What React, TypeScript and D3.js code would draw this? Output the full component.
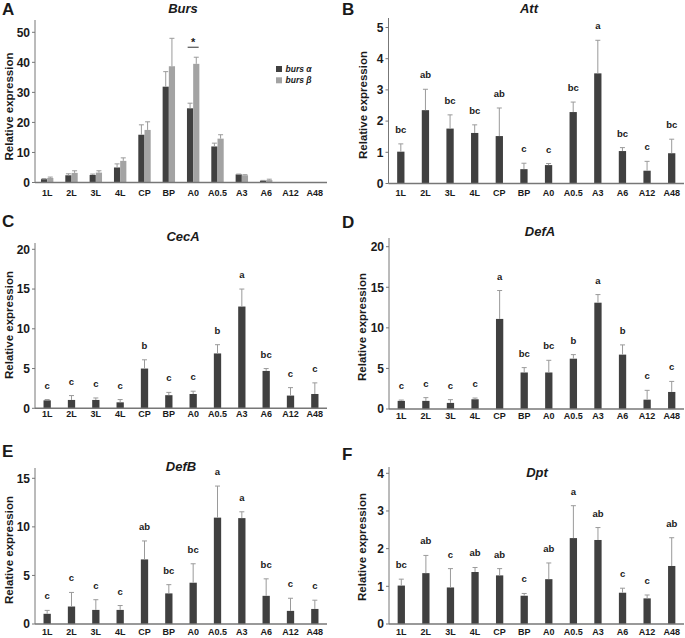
import React from 'react';
import * as d3 from 'd3';

const categories = ['1L', '2L', '3L', '4L', 'CP', 'BP', 'A0', 'A0.5', 'A3', 'A6', 'A12', 'A48'];

// Panel A – Burs
const bursAlphaMean = [1.1, 2.4, 2.5, 5.0, 15.9, 31.9, 24.7, 12.0, 2.7, 0.6, 0, 0];
const bursAlphaSd = [0.2, 0.5, 0.3, 1.2, 3.3, 5.0, 1.7, 1.1, 0.1, 0.1, 0, 0];
const bursBetaMean = [1.5, 3.2, 3.3, 7.2, 17.5, 38.7, 39.5, 14.6, 2.4, 0.8, 0, 0];
const bursBetaSd = [0.3, 0.7, 0.6, 1.0, 2.7, 9.3, 2.2, 1.3, 0.2, 0.3, 0, 0];
const bursTicks = [0, 10, 20, 30, 40, 50];
const bursLegend = ['burs α', 'burs β'];

// Panel B – Att
const attMean = [1.02, 2.35, 1.76, 1.62, 1.52, 0.46, 0.59, 2.29, 3.53, 1.04, 0.41, 0.97];
const attSd = [0.25, 0.67, 0.44, 0.26, 0.9, 0.19, 0.05, 0.32, 1.06, 0.11, 0.3, 0.45];
const attLetters = ['bc', 'ab', 'bc', 'bc', 'ab', 'c', 'c', 'bc', 'a', 'bc', 'c', 'bc'];
const attTicks = [0, 1, 2, 3, 4, 5];

// Panel C – CecA
const cecAMean = [1.0, 1.05, 1.05, 0.75, 5.0, 1.65, 1.8, 6.9, 12.8, 4.7, 1.6, 1.8];
const cecASd = [0.1, 0.55, 0.25, 0.35, 1.1, 0.35, 0.35, 1.1, 2.2, 0.3, 1.0, 1.4];
const cecALetters = ['c', 'c', 'c', 'c', 'b', 'c', 'c', 'b', 'a', 'bc', 'c', 'c'];
const cecATicks = [0, 5, 10, 15, 20];

// Panel D – DefA
const defAMean = [1.0, 1.0, 0.75, 1.2, 11.1, 4.5, 4.5, 6.2, 13.1, 6.7, 1.15, 2.1];
const defASd = [0.1, 0.4, 0.4, 0.15, 3.5, 0.6, 1.5, 0.5, 1.0, 1.2, 1.15, 1.3];
const defALetters = ['c', 'c', 'c', 'c', 'a', 'bc', 'bc', 'b', 'a', 'b', 'c', 'c'];
const defATicks = [0, 5, 10, 15, 20];

// Panel E – DefB
const defBMean = [1.05, 1.8, 1.45, 1.45, 6.65, 3.15, 4.25, 10.95, 10.9, 2.9, 1.35, 1.55];
const defBSd = [0.35, 1.45, 1.05, 0.45, 1.9, 0.9, 1.95, 3.25, 0.65, 1.75, 1.3, 0.9];
const defBLetters = ['c', 'c', 'c', 'c', 'ab', 'bc', 'bc', 'a', 'a', 'bc', 'c', 'c'];
const defBTicks = [0, 5, 10, 15];

// Panel F – Dpt
const dptMean = [1.02, 1.35, 0.97, 1.38, 1.29, 0.75, 1.19, 2.28, 2.23, 0.83, 0.68, 1.54];
const dptSd = [0.17, 0.47, 0.5, 0.12, 0.18, 0.06, 0.43, 0.86, 0.33, 0.12, 0.09, 0.75];
const dptLetters = ['bc', 'ab', 'c', 'ab', 'ab', 'c', 'ab', 'a', 'ab', 'c', 'c', 'ab'];
const dptTicks = [0, 1, 2, 3, 4];

const FONT = 'Arial, "Liberation Sans", Helvetica, sans-serif';
const DARK = '#404040';
const LIGHT = '#a3a3a3';
const AXIS = '#777777';
const ERR = '#9a9a9a';
const TXT = '#1a1a1a';

type Series = { mean: number[]; sd: number[]; color: string; name?: string };
type PanelCfg = {
  letter: string;
  title: string;
  series: Series[];
  letters?: string[];
  ticks: number[];
  x0: number; x1: number;
  yBase: number; yTop: number;
  tickPx: number; // pixel of the last tick
  catY: number;
  titleX: number; titleY: number;
  letterX: number; letterY: number;
  labelX: number; labelY: number;
  legend?: boolean;
  star?: number;
};

const panels: PanelCfg[] = [
  {
    letter: 'A', title: 'Burs',
    series: [
      { mean: bursAlphaMean, sd: bursAlphaSd, color: DARK, name: bursLegend[0] },
      { mean: bursBetaMean, sd: bursBetaSd, color: LIGHT, name: bursLegend[1] },
    ],
    ticks: bursTicks, x0: 35, x1: 327, yBase: 182.5, yTop: 20, tickPx: 32.3,
    catY: 195.5, titleX: 183, titleY: 13, letterX: 2, letterY: 14.5,
    labelX: 13, labelY: 106.5, legend: true, star: 6,
  },
  {
    letter: 'B', title: 'Att', series: [{ mean: attMean, sd: attSd, color: DARK }],
    letters: attLetters, ticks: attTicks, x0: 388.5, x1: 684, yBase: 183.5, yTop: 18, tickPx: 27.5,
    catY: 195.5, titleX: 529, titleY: 13, letterX: 342, letterY: 15,
    labelX: 366.5, labelY: 105,
  },
  {
    letter: 'C', title: 'CecA', series: [{ mean: cecAMean, sd: cecASd, color: DARK }],
    letters: cecALetters, ticks: cecATicks, x0: 35, x1: 327, yBase: 408.3, yTop: 243, tickPx: 249.3,
    catY: 416.5, titleX: 183, titleY: 241, letterX: 2, letterY: 227,
    labelX: 13, labelY: 325,
  },
  {
    letter: 'D', title: 'DefA', series: [{ mean: defAMean, sd: defASd, color: DARK }],
    letters: defALetters, ticks: defATicks, x0: 389, x1: 684, yBase: 409, yTop: 238, tickPx: 246.7,
    catY: 418.5, titleX: 540, titleY: 236, letterX: 342, letterY: 228,
    labelX: 366, labelY: 327,
  },
  {
    letter: 'E', title: 'DefB', series: [{ mean: defBMean, sd: defBSd, color: DARK }],
    letters: defBLetters, ticks: defBTicks, x0: 35, x1: 327, yBase: 624, yTop: 468, tickPx: 478.3,
    catY: 635, titleX: 181, titleY: 471, letterX: 2, letterY: 457,
    labelX: 13, labelY: 550,
  },
  {
    letter: 'F', title: 'Dpt', series: [{ mean: dptMean, sd: dptSd, color: DARK }],
    letters: dptLetters, ticks: dptTicks, x0: 389, x1: 684, yBase: 624, yTop: 467, tickPx: 473.3,
    catY: 635, titleX: 537, titleY: 477, letterX: 342, letterY: 460,
    labelX: 366, labelY: 547,
  },
];

function Panel({ p }: { p: PanelCfg }) {
  const lastTick = p.ticks[p.ticks.length - 1];
  const pxPerUnit = (p.yBase - p.tickPx) / lastTick;
  const topVal = (p.yBase - p.yTop) / pxPerUnit;
  const y = d3.scaleLinear().domain([0, topVal]).range([p.yBase, p.yTop]);
  const x = d3.scaleBand<string>().domain(categories).range([p.x0, p.x1]).padding(0);
  const multi = p.series.length > 1;
  const barW = multi ? 6.2 : 7.3;
  const inner = d3
    .scaleBand<number>()
    .domain(p.series.map((_, i) => i))
    .range(multi ? [-barW, barW] : [-barW / 2, barW / 2]);
  const cx = (c: string) => (x(c) as number) + x.bandwidth() / 2;

  return (
    <g>
      <text x={p.letterX} y={p.letterY} fontFamily={FONT} fontWeight="bold" fontSize={17} fill={TXT}>
        {p.letter}
      </text>
      <text x={p.titleX} y={p.titleY} textAnchor="middle" fontFamily={FONT} fontWeight="bold"
        fontStyle="italic" fontSize={13} fill={TXT}>
        {p.title}
      </text>
      <text transform={`translate(${p.labelX},${p.labelY}) rotate(-90)`} textAnchor="middle"
        fontFamily={FONT} fontWeight="bold" fontSize={11.5} fill={TXT}>
        Relative expression
      </text>
      {p.series.map((s, si) =>
        categories.map((c, i) => {
          const bx = cx(c) + (inner(si) as number);
          const bw = inner.bandwidth();
          const top = y(s.mean[i]);
          return (
            <rect key={`b${si}-${i}`} x={bx} y={top} width={bw} height={p.yBase - top} fill={s.color} />
          );
        })
      )}
      {p.series.map((s, si) =>
        categories.map((c, i) => {
          if (s.sd[i] <= 0) return null;
          const ex = cx(c) + (inner(si) as number) + inner.bandwidth() / 2;
          const t = y(s.mean[i] + s.sd[i]);
          return (
            <g key={`e${si}-${i}`} stroke={ERR} strokeWidth={1}>
              <line x1={ex} x2={ex} y1={y(s.mean[i])} y2={t} />
              <line x1={ex - 2.5} x2={ex + 2.5} y1={t} y2={t} />
            </g>
          );
        })
      )}
      {p.letters &&
        categories.map((c, i) => {
          const s = p.series[0];
          return (
            <text key={`l${i}`} x={cx(c)} y={y(s.mean[i] + s.sd[i]) - 11} textAnchor="middle"
              fontFamily={FONT} fontWeight="bold" fontSize={9.5} fill={TXT}>
              {p.letters![i]}
            </text>
          );
        })}
      <line x1={p.x0} x2={p.x0} y1={p.yTop} y2={p.yBase} stroke={AXIS} strokeWidth={1} />
      {p.ticks.map((t) => (
        <g key={`t${t}`}>
          <line x1={p.x0 - 3} x2={p.x0} y1={y(t)} y2={y(t)} stroke={AXIS} strokeWidth={1} />
          <text x={p.x0 - 5} y={y(t)} dy="0.36em" textAnchor="end" fontFamily={FONT}
            fontWeight="bold" fontSize={12} fill={TXT}>
            {t}
          </text>
        </g>
      ))}
      <line x1={p.x0} x2={p.x1} y1={p.yBase} y2={p.yBase} stroke={AXIS} strokeWidth={1.5} />
      {categories.map((c) => (
        <text key={`c${c}`} x={cx(c)} y={p.catY} textAnchor="middle" fontFamily={FONT}
          fontWeight="bold" fontSize={9} fill={TXT}>
          {c}
        </text>
      ))}
      {p.legend &&
        p.series.map((s, si) => (
          <g key={`lg${si}`}>
            <rect x={276} y={66 + si * 11.3} width={6} height={6} fill={s.color} />
            <text x={285.5} y={72 + si * 11.3} fontFamily={FONT} fontWeight="bold" fontStyle="italic"
              fontSize={8.5} fill={TXT}>
              {s.name}
            </text>
          </g>
        ))}
      {p.star !== undefined && (() => {
        const c = categories[p.star!];
        const maxTop = d3.max(p.series, (s) => s.mean[p.star!] + s.sd[p.star!]) as number;
        const ly = y(maxTop) - 10;
        return (
          <g>
            <line x1={cx(c) - 5.5} x2={cx(c) + 5.5} y1={ly} y2={ly} stroke="#333" strokeWidth={1} />
            <text x={cx(c)} y={ly - 1.5} textAnchor="middle" fontFamily={FONT} fontWeight="bold"
              fontSize={11} fill={TXT}>
              *
            </text>
          </g>
        );
      })()}
    </g>
  );
}

export default function App() {
  return (
    <svg width={685} height={638} viewBox="0 0 685 638"
      style={{ display: 'block', position: 'absolute', left: 0, top: 0, background: '#fff' }}>
      <rect width={685} height={638} fill="#fff" />
      {panels.map((p) => (
        <Panel key={p.letter} p={p} />
      ))}
    </svg>
  );
}
